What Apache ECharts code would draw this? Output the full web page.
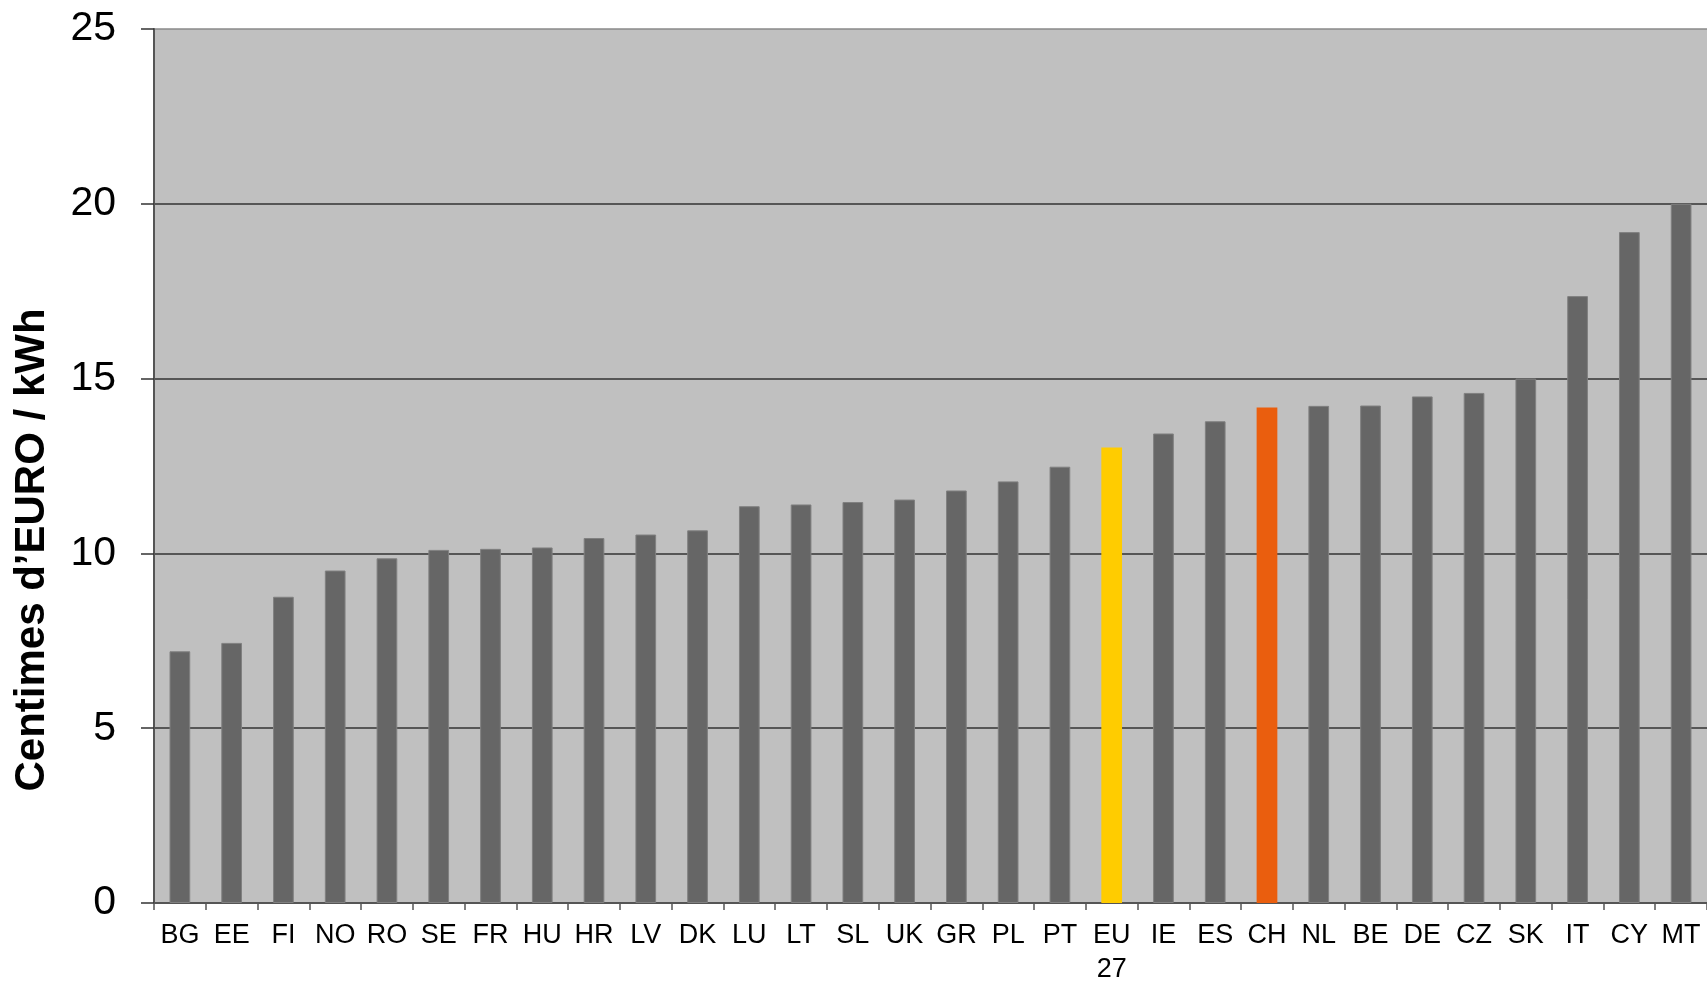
<!DOCTYPE html>
<html>
<head>
<meta charset="utf-8">
<script src="https://cdn.jsdelivr.net/npm/echarts@6/dist/echarts.min.js"></script>
<style>
html,body{margin:0;padding:0;background:#fff;}
#chart{width:1707px;height:987px;}
</style>
</head>
<body>
<div id="chart"></div>
<script>
const categories = ['BG','EE','FI','NO','RO','SE','FR','HU','HR','LV','DK','LU','LT','SL','UK','GR','PL','PT','EU\n27','IE','ES','CH','NL','BE','DE','CZ','SK','IT','CY','MT'];
const values = [7.20,7.44,8.76,9.51,9.86,10.10,10.13,10.17,10.44,10.54,10.66,11.35,11.40,11.47,11.54,11.80,12.06,12.48,13.03,13.43,13.78,14.17,14.22,14.23,14.49,14.59,15.00,17.36,19.19,20.00];
const yTicks = [0,5,10,15,20,25];
const yTitle = 'Centimes d’EURO / kWh';

const highlight = {'EU\n27':'#FFCC00','CH':'#EA5E0E'};
const font = 'Liberation Sans, Arial, sans-serif';

const chart = echarts.init(document.getElementById('chart'));
chart.setOption({
  animation:false,
  backgroundColor:'#ffffff',
  grid:{left:154,right:0,top:29,bottom:76.5,show:true,backgroundColor:'#C0C0C0',borderWidth:0},
  xAxis:{
    type:'category',
    data:categories,
    axisLine:{show:true,lineStyle:{color:'#555555',width:2}},
    axisTick:{show:true,length:7,lineStyle:{color:'#555555',width:1.5}},
    axisLabel:{color:'#000',fontFamily:font,fontSize:27,margin:16,lineHeight:34,interval:0}
  },
  yAxis:{
    type:'value',
    min:yTicks[0],max:yTicks[yTicks.length-1],interval:5,
    axisLine:{show:true,lineStyle:{color:'#555555',width:2}},
    axisTick:{show:true,length:13,lineStyle:{color:'#333333',width:1.5}},
    axisLabel:{color:'#000',fontFamily:font,fontSize:41,margin:38},
    splitLine:{show:true,lineStyle:{color:['#333333','#333333','#333333','#333333','#333333','#8a8a8a'],width:1.5}}
  },
  graphic:[{
    type:'text',
    x:32,y:550,rotation:Math.PI/2,
    style:{text:yTitle,fontFamily:font,fontWeight:'bold',fontSize:42,fill:'#000',textAlign:'center',textVerticalAlign:'middle'}
  }],
  series:[{
    type:'bar',
    data:values.map((v,i)=>({value:v,itemStyle:highlight[categories[i]]?{color:highlight[categories[i]],borderWidth:0}:{}})),
    barWidth:'40%',
    itemStyle:{color:'#666666',borderColor:'#808080',borderWidth:1}
  }]
});
</script>
</body>
</html>
